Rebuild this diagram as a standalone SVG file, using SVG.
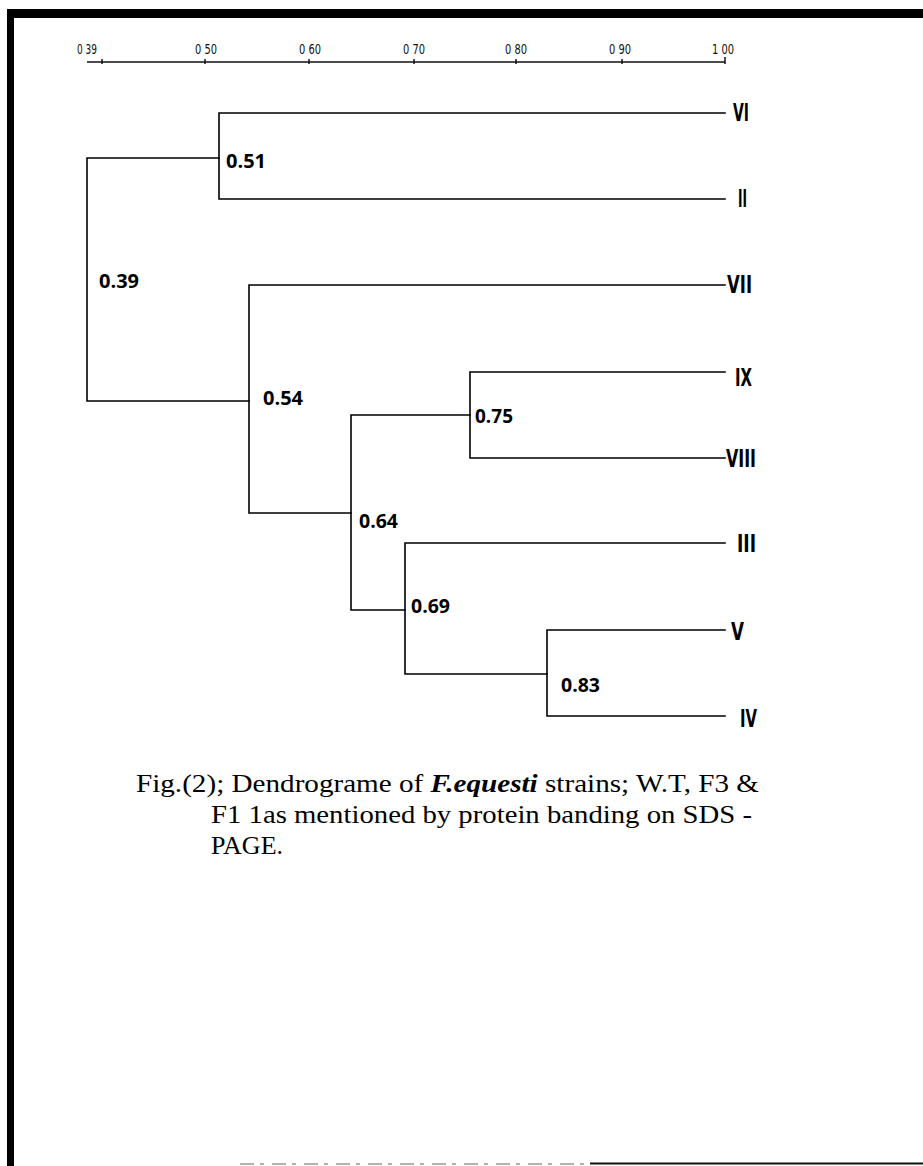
<svg xmlns="http://www.w3.org/2000/svg" width="923" height="1166" viewBox="0 0 923 1166">
<style>
.frame{fill:#000}
.axis{stroke:#111;stroke-width:1.5;fill:none}
.ax{font-family:"DejaVu Sans Condensed","Liberation Sans",sans-serif;font-size:14px;fill:#111}
.br{stroke:#000;stroke-width:1.6;fill:none;stroke-linecap:square}
.leaf{font-family:"DejaVu Sans Condensed","Liberation Sans",sans-serif;font-weight:bold;font-size:24px;fill:#000}
.val{font-family:"Open Sans","Liberation Sans",sans-serif;font-weight:bold;font-size:20px;fill:#000}
.cap{font-family:"Liberation Serif","Times New Roman",serif;font-size:26px;fill:#000}
</style>
<rect width="923" height="1166" fill="#fff"/>
<g id="frame">
<path class="frame" d="M7 9H923V18H7Z"/>
<rect class="frame" x="7" y="9" width="7" height="1157"/>
<line x1="590" y1="1163.5" x2="923" y2="1163.5" stroke="#111" stroke-width="2"/>
<line x1="240" y1="1164" x2="590" y2="1164" stroke="#999" stroke-width="1.5" stroke-dasharray="14 6 4 8"/>
</g>
<g id="axis">
<line class="axis" x1="87" y1="62" x2="725" y2="62"/>
<path class="axis" d="M102 59v5M205 59v5M309 59v5M414 59v5M516 59v5M622 59v5M725 57v7"/>
<text class="ax" x="77" y="54" textLength="20" lengthAdjust="spacingAndGlyphs">0 39</text>
<text class="ax" x="195" y="54" textLength="22" lengthAdjust="spacingAndGlyphs">0 50</text>
<text class="ax" x="299" y="54" textLength="22" lengthAdjust="spacingAndGlyphs">0 60</text>
<text class="ax" x="403" y="54" textLength="22" lengthAdjust="spacingAndGlyphs">0 70</text>
<text class="ax" x="505" y="54" textLength="22" lengthAdjust="spacingAndGlyphs">0 80</text>
<text class="ax" x="609" y="54" textLength="22" lengthAdjust="spacingAndGlyphs">0 90</text>
<text class="ax" x="712" y="54" textLength="22" lengthAdjust="spacingAndGlyphs">1 00</text>
</g>
<g id="connectors">
<path class="br" d="M725 113H219V199H725"/>
<path class="br" d="M219 158H87V401H249"/>
<path class="br" d="M725 285H249V513H351"/>
<path class="br" d="M725 372H470V458H725"/>
<path class="br" d="M470 415H351V610H405"/>
<path class="br" d="M725 543H405V674H547"/>
<path class="br" d="M725 630H547V716H725"/>
</g>
<g id="leaf-VI"><text class="leaf" x="733" y="121" textLength="16" lengthAdjust="spacingAndGlyphs">VI</text></g>
<g id="leaf-II"><text class="leaf" x="738" y="207" textLength="9" lengthAdjust="spacingAndGlyphs">II</text></g>
<g id="leaf-VII"><text class="leaf" x="727" y="293" textLength="25" lengthAdjust="spacingAndGlyphs">VII</text></g>
<g id="leaf-IX"><text class="leaf" x="735" y="386" textLength="17" lengthAdjust="spacingAndGlyphs">IX</text></g>
<g id="leaf-VIII"><text class="leaf" x="726" y="467" textLength="30" lengthAdjust="spacingAndGlyphs">VIII</text></g>
<g id="leaf-III"><text class="leaf" x="737" y="552" textLength="19" lengthAdjust="spacingAndGlyphs">III</text></g>
<g id="leaf-V"><text class="leaf" x="731" y="640" textLength="13" lengthAdjust="spacingAndGlyphs">V</text></g>
<g id="leaf-IV"><text class="leaf" x="740" y="727" textLength="17" lengthAdjust="spacingAndGlyphs">IV</text></g>
<g id="node-051"><text class="val" x="226" y="168" textLength="40" lengthAdjust="spacingAndGlyphs">0.51</text></g>
<g id="node-039"><text class="val" x="99" y="288" textLength="40" lengthAdjust="spacingAndGlyphs">0.39</text></g>
<g id="node-054"><text class="val" x="263" y="405" textLength="40" lengthAdjust="spacingAndGlyphs">0.54</text></g>
<g id="node-075"><text class="val" x="475" y="423" textLength="38" lengthAdjust="spacingAndGlyphs">0.75</text></g>
<g id="node-064"><text class="val" x="359" y="528" textLength="39" lengthAdjust="spacingAndGlyphs">0.64</text></g>
<g id="node-069"><text class="val" x="411" y="613" textLength="39" lengthAdjust="spacingAndGlyphs">0.69</text></g>
<g id="node-083"><text class="val" x="561" y="692" textLength="39" lengthAdjust="spacingAndGlyphs">0.83</text></g>
<g id="caption">
<text class="cap" x="136" y="792" textLength="623" lengthAdjust="spacingAndGlyphs">Fig.(2); Dendrograme of <tspan font-weight="bold" font-style="italic">F.equesti</tspan> strains; W.T, F3 &amp;</text>
<text class="cap" x="211" y="823" textLength="541" lengthAdjust="spacingAndGlyphs">F1 1as mentioned by protein banding on SDS -</text>
<text class="cap" x="211" y="854">PAGE.</text>
</g>
</svg>
